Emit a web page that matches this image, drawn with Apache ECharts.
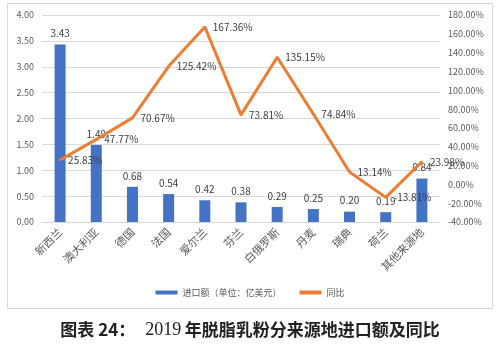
<!DOCTYPE html>
<html>
<head>
<meta charset="utf-8">
<script src="https://cdn.jsdelivr.net/npm/echarts@6/dist/echarts.min.js"></script>
<style>
	html, body { margin: 0; padding: 0; background: #fff; }
	#chart { width: 500px; height: 352px; }
</style>
</head>
<body>
<div id="chart"></div>
<script>
// 来源地
var countries = ['新西兰', '澳大利亚', '德国', '法国', '爱尔兰', '芬兰', '白俄罗斯', '丹麦', '瑞典', '荷兰', '其他来源地'];
// 进口额（亿美元）
var importValues = [3.43, 1.49, 0.68, 0.54, 0.42, 0.38, 0.29, 0.25, 0.20, 0.19, 0.84];
// 同比（%）
var yoyValues = [25.83, 47.77, 70.67, 125.42, 167.36, 73.81, 135.15, 74.84, 13.14, -13.81, 23.98];

var font = '"Noto Sans CJK SC", "Noto Sans", sans-serif';
var chart = echarts.init(document.getElementById('chart'));

var option = {
	animation: false,
	textStyle: { fontFamily: font },
	graphic: [{
		type: 'rect',
		shape: { x: 7.5, y: 3.5, width: 485, height: 305 },
		style: { fill: 'none', stroke: '#d9d9d9', lineWidth: 1 }
	}, {
		type: 'text',
		left: 'center',
		top: 321,
		style: {
			text: '{a|图表 24：}   {b|2019} {a|年脱脂乳粉分来源地进口额及同比}',
			rich: {
				a: { font: 'bold 17px "Noto Sans CJK SC", sans-serif', fill: '#222' },
				b: { font: '18px "Liberation Serif", serif', fill: '#222' }
			}
		}
	}],
	grid: { left: 42, right: 60, top: 15, bottom: 130 },
	legend: {
		bottom: 50,
		left: 'center',
		itemWidth: 22,
		itemHeight: 4,
		itemGap: 18,
		textStyle: { fontSize: 9, color: '#595959' },
		data: [
			{ name: '进口额（单位：亿美元）', icon: 'rect' },
			{ name: '同比', icon: 'rect' }
		]
	},
	xAxis: {
		type: 'category',
		data: countries,
		axisLine: { lineStyle: { color: '#d9d9d9' } },
		axisTick: { show: false },
		axisLabel: { rotate: 45, fontSize: 11, color: '#595959', margin: 8, interval: 0 }
	},
	yAxis: [{
		type: 'value',
		min: 0, max: 4, interval: 0.5,
		axisLabel: { fontSize: 9, color: '#595959', formatter: function (v) { return v.toFixed(2); } },
		splitLine: { lineStyle: { color: '#d9d9d9' } },
		axisLine: { show: false }, axisTick: { show: false }
	}, {
		type: 'value',
		min: -40, max: 180, interval: 20,
		axisLabel: { fontSize: 9, color: '#595959', formatter: function (v) { return v.toFixed(2) + '%'; } },
		splitLine: { show: false },
		axisLine: { show: false }, axisTick: { show: false }
	}],
	series: [{
		name: '进口额（单位：亿美元）',
		type: 'bar',
		data: importValues,
		barWidth: 11,
		itemStyle: { color: '#4472c4' },
		label: {
			show: true, position: 'top', fontSize: 10, color: '#404040',
			distance: 6,
			formatter: function (p) { return p.value.toFixed(2); }
		}
	}, {
		name: '同比',
		type: 'line',
		yAxisIndex: 1,
		data: yoyValues,
		symbol: 'circle',
		symbolSize: 2,
		showSymbol: true,
		lineStyle: { color: '#ed7d31', width: 3 },
		itemStyle: { color: '#ed7d31' },
		labelLayout: { hideOverlap: false },
		label: {
			show: true, position: 'right', fontSize: 10, color: '#404040',
			distance: 7,
			formatter: function (p) { return p.value.toFixed(2) + '%'; }
		}
	}]
};

chart.setOption(option);
</script>
</body>
</html>
